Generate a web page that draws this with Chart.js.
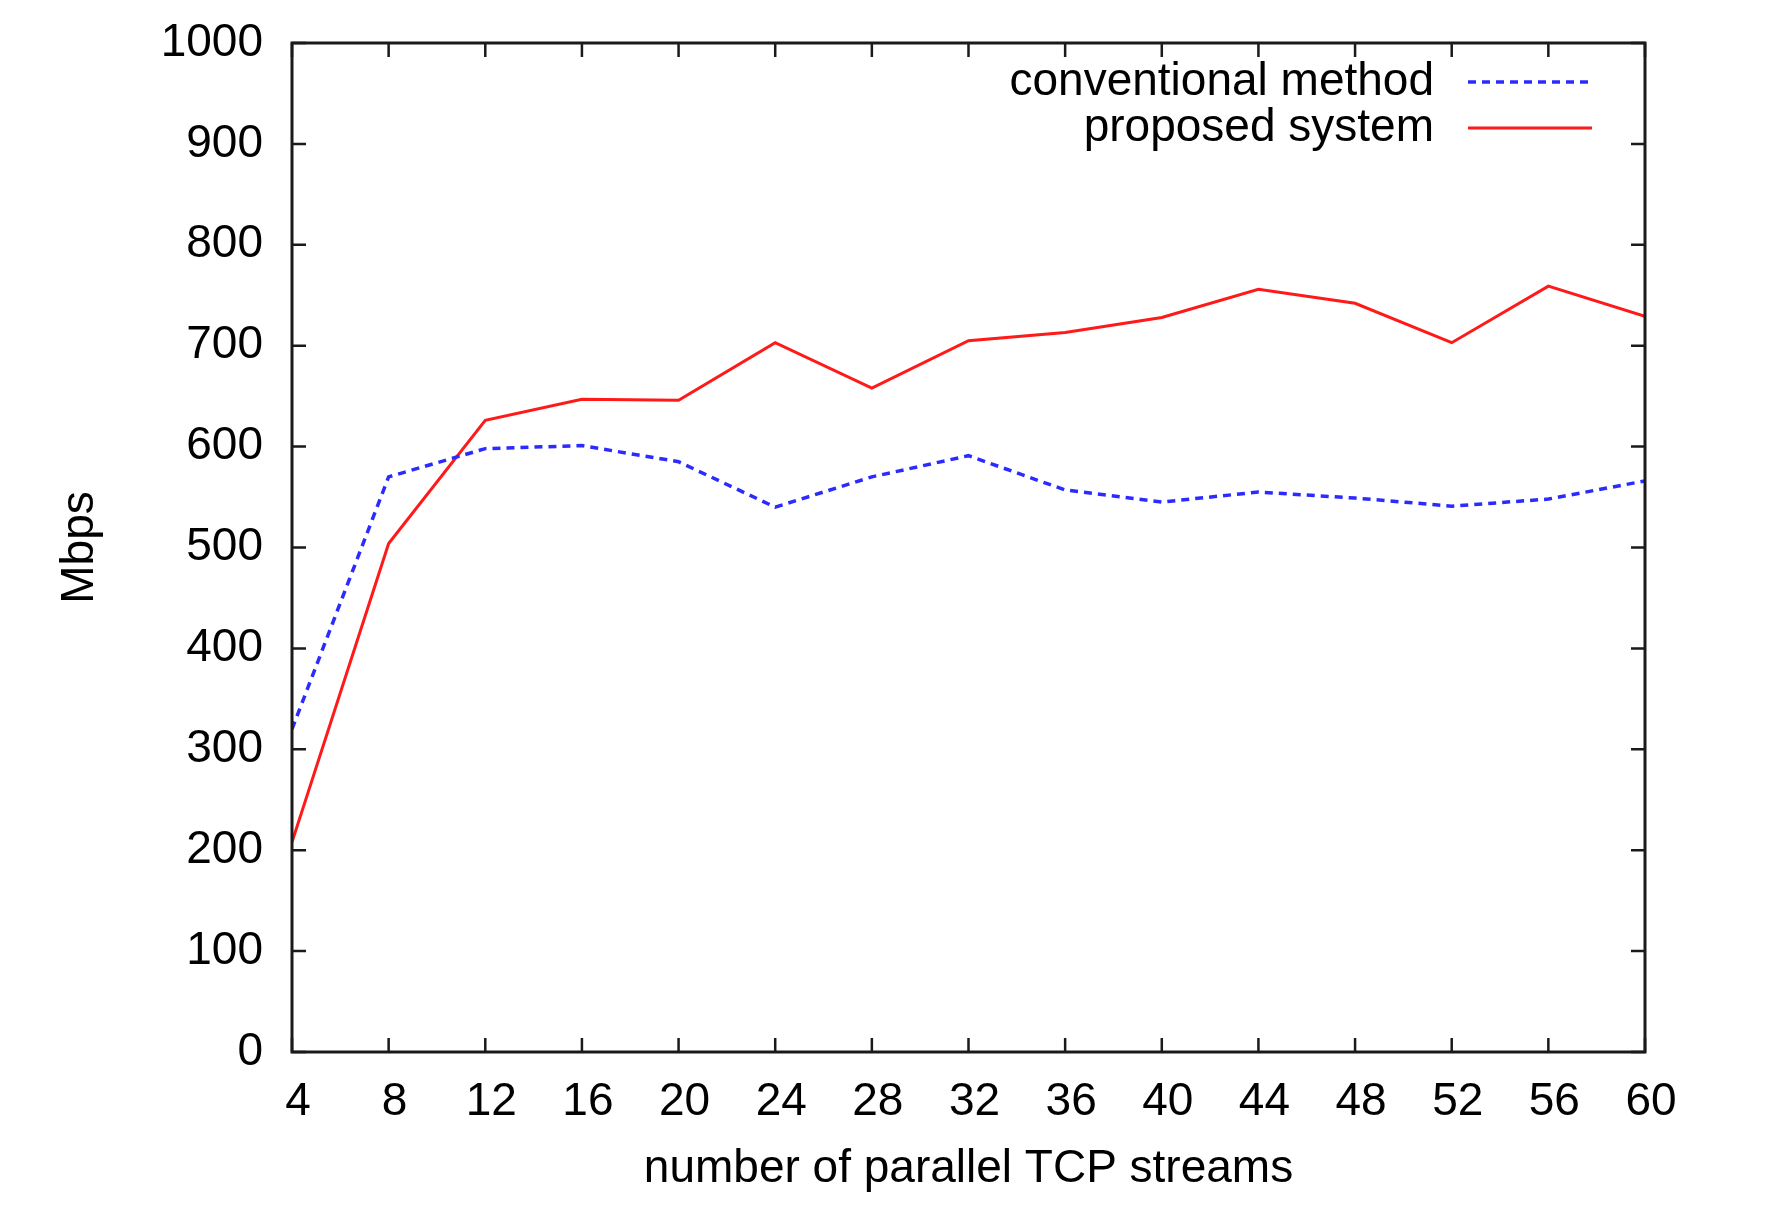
<!DOCTYPE html>
<html><head><meta charset="utf-8">
<script src="https://cdn.jsdelivr.net/npm/chart.js@4/dist/chart.umd.min.js"></script>
<style>html,body{margin:0;padding:0;background:#fff;} #wrap{width:1772px;height:1208px;position:relative;}</style>
</head><body><div id="wrap"><canvas id="c"></canvas></div>
<script>
const streams = [4, 8, 12, 16, 20, 24, 28, 32, 36, 40, 44, 48, 52, 56, 60];
const conventional = [320, 570, 598, 601, 585, 540, 570, 591, 557, 545, 555, 549, 541, 548, 566];
const proposed = [208, 504, 626, 647, 646, 703, 658, 705, 713, 728, 756, 742, 703, 759, 729];
const yTicks = [0, 100, 200, 300, 400, 500, 600, 700, 800, 900, 1000];
const seriesNames = ['conventional method', 'proposed system'];
const xTitle = 'number of parallel TCP streams';
const yTitle = 'Mbps';

const FONT = "'Liberation Sans', Arial, Helvetica, sans-serif";
const BLUE = '#2b2bff';
const RED = '#ff1a1a';

const framePlugin = {
  id: 'frame',
  afterDraw(chart) {
    const {ctx, chartArea: {left, right, top, bottom}, scales: {x, y}} = chart;
    ctx.save();
    ctx.strokeStyle = '#1a1a1a';
    ctx.lineWidth = 2.5;
    const L = 14;
    ctx.beginPath();
    x.ticks.forEach(t => {
      const px = x.getPixelForValue(t.value);
      ctx.moveTo(px, bottom); ctx.lineTo(px, bottom - L);
      ctx.moveTo(px, top); ctx.lineTo(px, top + L);
    });
    y.ticks.forEach(t => {
      const py = y.getPixelForValue(t.value);
      ctx.moveTo(left, py); ctx.lineTo(left + L, py);
      ctx.moveTo(right, py); ctx.lineTo(right - L, py);
    });
    ctx.stroke();
    ctx.lineWidth = 3;
    ctx.strokeRect(left, top, right - left, bottom - top);

    // legend (gnuplot style: text right-aligned, sample on the right)
    ctx.font = '46px ' + FONT;
    ctx.fillStyle = '#000';
    ctx.textAlign = 'right';
    ctx.textBaseline = 'middle';
    chart.data.datasets.forEach((ds, i) => {
      const ry = top + 39 + i * 46;
      ctx.fillText(ds.label, right - 211, ry);
      ctx.strokeStyle = ds.borderColor;
      ctx.lineWidth = ds.borderWidth;
      ctx.setLineDash(ds.borderDash || []);
      ctx.beginPath();
      ctx.moveTo(right - 177, ry);
      ctx.lineTo(right - 53, ry);
      ctx.stroke();
      ctx.setLineDash([]);
    });
    ctx.restore();
  }
};

new Chart(document.getElementById('c'), {
  type: 'line',
  data: {
    datasets: [
      {
        label: seriesNames[0],
        data: streams.map((s, i) => ({x: s, y: conventional[i]})),
        borderColor: BLUE,
        borderWidth: 3.5,
        borderDash: [8, 6],
        pointRadius: 0,
        fill: false,
        tension: 0
      },
      {
        label: seriesNames[1],
        data: streams.map((s, i) => ({x: s, y: proposed[i]})),
        borderColor: RED,
        borderWidth: 3,
        pointRadius: 0,
        fill: false,
        tension: 0
      }
    ]
  },
  options: {
    responsive: true,
    maintainAspectRatio: false,
    animation: false,
    layout: {padding: {top: 43, right: 127, left: 0, bottom: 0}},
    plugins: {legend: {display: false}, tooltip: {enabled: false}},
    scales: {
      x: {
        type: 'linear',
        min: 4, max: 60,
        afterBuildTicks: s => { s.ticks = streams.map(v => ({value: v})); },
        afterFit: s => { s.height = 156; },
        grid: {display: false, drawTicks: false},
        border: {display: false},
        ticks: {color: '#000', font: {family: FONT, size: 46}, padding: 23, labelOffset: 6, maxRotation: 0, autoSkip: false, callback: v => String(v)},
        title: {display: true, text: xTitle, color: '#000', font: {family: FONT, size: 46}, padding: {top: 0, bottom: 11}}
      },
      y: {
        type: 'linear',
        min: 0, max: 1000,
        afterBuildTicks: s => { s.ticks = yTicks.map(v => ({value: v})); },
        afterFit: s => { s.width = 292; s.paddingTop = 0; s.paddingBottom = 0; },
        grid: {display: false, drawTicks: false},
        border: {display: false},
        ticks: {color: '#000', font: {family: FONT, size: 46}, padding: 29, callback: v => String(v)},
        title: {display: true, text: yTitle, color: '#000', font: {family: FONT, size: 46}, padding: {top: 53, bottom: 0}}
      }
    }
  },
  plugins: [framePlugin]
});
</script>
</body></html>
